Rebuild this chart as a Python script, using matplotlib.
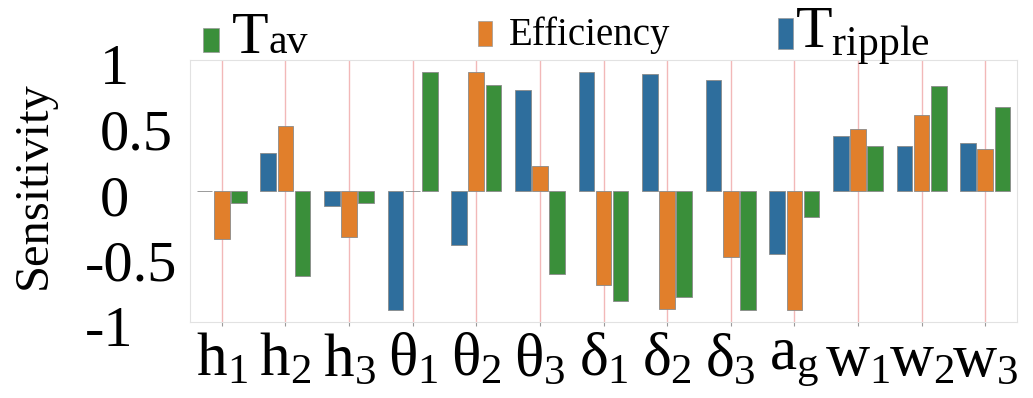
import matplotlib
matplotlib.use("Agg")
import matplotlib.pyplot as plt
from matplotlib.patches import Rectangle
from matplotlib.transforms import ScaledTranslation
import numpy as np

plt.rcParams['font.family'] = ['Liberation Serif', 'DejaVu Serif']
plt.rcParams['mathtext.fontset'] = 'custom'
plt.rcParams['mathtext.rm'] = 'Liberation Serif'
plt.rcParams['mathtext.it'] = 'Liberation Serif'

# data
params = [r'$\mathrm{h}_1$', r'$\mathrm{h}_2$', r'$\mathrm{h}_3$',
          r'$\theta_1$', r'$\theta_2$', r'$\theta_3$',
          r'$\delta_1$', r'$\delta_2$', r'$\delta_3$',
          r'$\mathrm{a}_\mathrm{g}$', r'$\mathrm{w}_1$', r'$\mathrm{w}_2$', r'$\mathrm{w}_3$']
t_ripple = [0.0, 0.29, -0.115, -0.91, -0.41, 0.77, 0.91, 0.89, 0.85, -0.48, 0.42, 0.34, 0.37]
efficiency = [-0.37, 0.50, -0.35, 0.0, 0.91, 0.19, -0.72, -0.90, -0.50, -0.91, 0.47, 0.58, 0.32]
t_av = [-0.09, -0.65, -0.09, 0.91, 0.81, -0.63, -0.84, -0.81, -0.91, -0.20, 0.34, 0.80, 0.64]
yticks = [-1, -0.5, 0, 0.5, 1]
ytick_labels = ['-1', '-0.5', '0', '0.5', '1']

c_blue = '#2e6e9d'
c_orange = '#e17f2b'
c_green = '#3a8f3a'

W, H = 1033, 398
fig = plt.figure(figsize=(W / 100, H / 100), dpi=100)
ax = fig.add_axes([190 / W, 1 - 322 / H, (1017 - 190) / W, (322 - 60) / H])

x = np.arange(len(params))
bw = 0.245
off = 0.27
for vals, col, dx in [(t_ripple, c_blue, -off), (efficiency, c_orange, 0), (t_av, c_green, off)]:
    ax.bar(x + dx, vals, width=bw, color=col, edgecolor='#8a8a8a', linewidth=0.6, zorder=3)

ax.set_xlim(-0.5, len(params) - 0.5)
ax.set_ylim(-1, 1)
ax.set_axisbelow(True)
ax.grid(axis='x', color='#f2b8b8', linewidth=1.0)
ax.grid(axis='y', visible=False)
for s in ax.spines.values():
    s.set_color('#e2e2e2')
    s.set_linewidth(0.8)

ax.set_xticks(x)
ax.set_xticklabels(params, fontsize=44)
ax.tick_params(axis='x', length=3, color='#999999', pad=5)

ax.set_yticks(yticks)
ax.set_yticklabels(ytick_labels, fontsize=42, ha='left')
ax.tick_params(axis='y', length=0, pad=65)
for lab in ax.get_yticklabels():
    tr = ScaledTranslation(0, -0.04, fig.dpi_scale_trans)
    if lab.get_text().startswith('-'):
        tr = ScaledTranslation(-0.15, -0.04, fig.dpi_scale_trans)
    lab.set_transform(lab.get_transform() + tr)

fig.text(34 / W, 1 - 185 / H, 'Sensitivity', rotation=90, fontsize=35,
         ha='center', va='center')

# legend drawn by hand to match the uneven spacing
for (x0, y0, w, h), col in [((203, 28, 16, 24), c_green),
                            ((478, 21, 14, 25), c_orange),
                            ((778, 18, 15, 31), c_blue)]:
    fig.add_artist(Rectangle((x0 / W, 1 - (y0 + h) / H), w / W, h / H,
                             transform=fig.transFigure, facecolor=col,
                             edgecolor='#999999', linewidth=0.5))
fig.text(232 / W, 1 - 53 / H, 'T', fontsize=43, va='baseline')
fig.text(269 / W, 1 - 53 / H, 'av', fontsize=30, va='baseline')
fig.text(509 / W, 1 - 45 / H, 'Efficiency', fontsize=28, va='baseline')
fig.text(795 / W, 1 - 48 / H, r'$\mathrm{T}_{\mathrm{ripple}}$', fontsize=43, va='baseline')

fig.savefig('out.png', dpi=100)
